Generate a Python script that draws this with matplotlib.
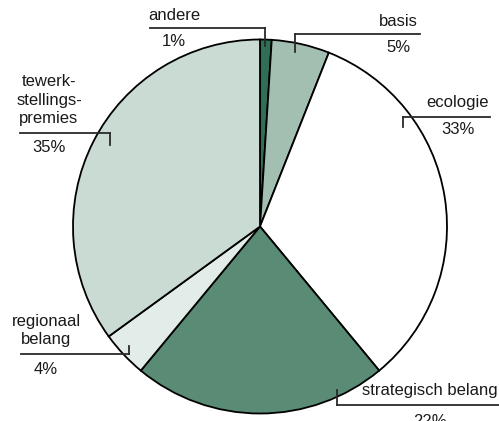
import matplotlib.pyplot as plt

plt.rcParams["font.family"] = ["Liberation Sans", "DejaVu Sans"]

labels = ["andere", "basis", "ecologie", "strategisch belang", "regionaal\nbelang", "tewerk-\nstellings-\npremies"]
shares = [1, 5, 33, 22, 4, 35]
colors = ["#2f6f57", "#a3bfb1", "#ffffff", "#5a8c75", "#e2ece8", "#c9dbd3"]

W, H = 499, 421

# label layout in pixel coords (y from top): text x, name y, pct y, line x0, x1, line y, tick end y
layout = [
    (174, 15, 41, 150, 265, 28, 46),
    (398, 22, 48, 295, 420, 34, 52),
    (458, 103, 129, 403, 490, 117, 127),
    (430, 391, 421, 337, 499, 405, 390),
    (46, 330.5, 369, 21, 129, 354, 346),
    (49, 100, 147, 20, 110, 133, 145),
]

fig = plt.figure(figsize=(W / 100, H / 100), dpi=100)
ax = fig.add_axes([0, 0, 1, 1])
ax.pie(shares, colors=colors, startangle=90, counterclock=False,
       center=(260, H - 226.5), radius=187,
       wedgeprops=dict(edgecolor="black", linewidth=1.3))
ax.set_xlim(0, W)
ax.set_ylim(0, H)
ax.set_aspect("equal")
ax.axis("off")

for lab, s, (tx, ny, py, x0, x1, ly, ty) in zip(labels, shares, layout):
    ax.plot([x0, x1], [H - ly, H - ly], color="#2a2a2a", lw=1.3, clip_on=False)
    tick_x = x1 if x0 < 100 or lab == "andere" else x0
    ax.plot([tick_x, tick_x], [H - ly, H - ty], color="#2a2a2a", lw=1.3, clip_on=False)
    ax.text(tx, H - ny, lab, ha="center", va="center", fontsize=12,
            linespacing=1.3, color="#1a1a1a")
    ax.text(tx, H - py, f"{s}%", ha="center", va="center", fontsize=12, color="#1a1a1a")

fig.savefig("out.png", dpi=100)
